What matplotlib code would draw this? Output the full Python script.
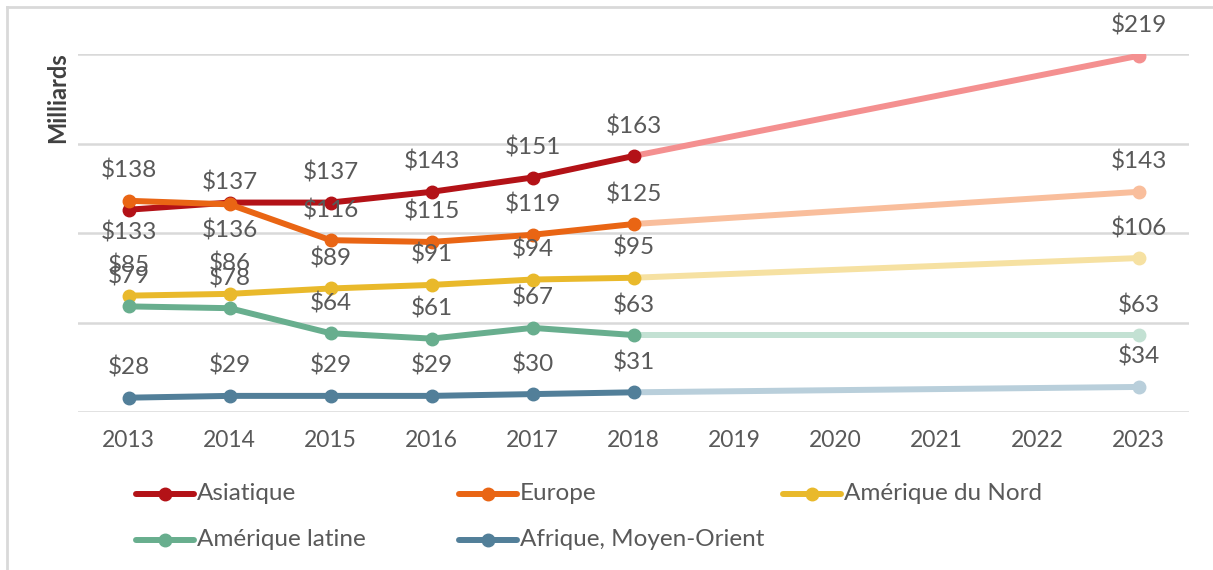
import matplotlib.pyplot as plt
from matplotlib.lines import Line2D

years = [2013, 2014, 2015, 2016, 2017, 2018, 2019, 2020, 2021, 2022, 2023]
hist_years = [2013, 2014, 2015, 2016, 2017, 2018]
proj_year = 2023

regions = ['Asiatique', 'Europe', 'Amérique du Nord', 'Amérique latine', 'Afrique, Moyen-Orient']
# values 2013..2018 then 2023
asiatique = [133, 137, 137, 143, 151, 163, 219]
europe = [138, 136, 116, 115, 119, 125, 143]
amerique_nord = [85, 86, 89, 91, 94, 95, 106]
amerique_latine = [79, 78, 64, 61, 67, 63, 63]
afrique = [28, 29, 29, 29, 30, 31, 34]

series = [asiatique, europe, amerique_nord, amerique_latine, afrique]
dark = ['#B31217', '#E96514', '#E9B92B', '#68AE8E', '#527F99']
light = ['#F49090', '#F9BE9C', '#F6E1A2', '#C3E1D3', '#B9CFDB']

FONT = 'Lato'
GREY = '#595959'
px = 72 / 100  # pixels -> points

fig = plt.figure(figsize=(12.13, 5.7), dpi=100)
W, H = 1213, 570
ax = fig.add_axes([78 / W, 1 - 412 / H, 1111 / W, 358 / H])

# label offsets (px) that differ from the default "above"
offsets = {(0, 0): -23, (1, 1): -26, (0, 1): 20}

for i, vals in enumerate(series):
    ax.plot([hist_years[-1], proj_year], [vals[5], vals[6]], color=light[i],
            lw=4.3, solid_capstyle='round', zorder=2)
    ax.plot([proj_year], [vals[6]], 'o', color=light[i], ms=9, zorder=2)
    ax.plot(hist_years, vals[:6], color=dark[i], lw=4.3, marker='o', ms=9,
            solid_capstyle='round', zorder=3)
    pts = list(zip(hist_years + [proj_year], vals))
    for j, (x, v) in enumerate(pts):
        off = offsets.get((i, j), 30)
        ax.annotate(f'${v}', (x, v), xytext=(0, off * px), textcoords='offset points',
                    ha='center', va='center', fontsize=17.5, color=GREY,
                    family=FONT, zorder=5)

ax.set_xlim(2012.5, 2023.5)
ax.set_ylim(20, 220)
ax.set_yticks([20, 70, 120, 170, 220])
ax.set_yticklabels([])
ax.set_xticks(years)
ax.set_xticklabels([str(y) for y in years], fontsize=16.5, color=GREY, family=FONT)
ax.tick_params(length=0, pad=13)
ax.grid(axis='y', color='#D9D9D9', lw=1.8, zorder=0)
for s in ax.spines.values():
    s.set_visible(False)
ax.set_axisbelow(True)

fig.text(58 / W, 1 - 98 / H, 'Milliards', rotation=90, ha='center', va='center',
         fontsize=17, fontweight='bold', color='#404040', family=FONT)

# frame (left and top edges visible)
fig.add_artist(Line2D([7 / W, 7 / W], [0, 1 - 7 / H], color='#D9D9D9', lw=2))
fig.add_artist(Line2D([7 / W, 1], [1 - 7 / H, 1 - 7 / H], color='#D9D9D9', lw=2))

# legend, laid out row by row
cols = [136, 459, 783]
rows = [494, 540]
for k, name in enumerate(regions):
    x0 = cols[k % 3]
    y0 = 1 - rows[k // 3] / H
    fig.add_artist(Line2D([x0 / W, (x0 + 58) / W], [y0, y0], color=dark[k], lw=4.3,
                          solid_capstyle='round'))
    fig.add_artist(Line2D([(x0 + 29) / W], [y0], marker='o', ms=9, color=dark[k]))
    fig.text((x0 + 61) / W, y0, name, ha='left', va='center', fontsize=17.5,
             color=GREY, family=FONT)

fig.savefig('out.png', dpi=100, facecolor='white')
